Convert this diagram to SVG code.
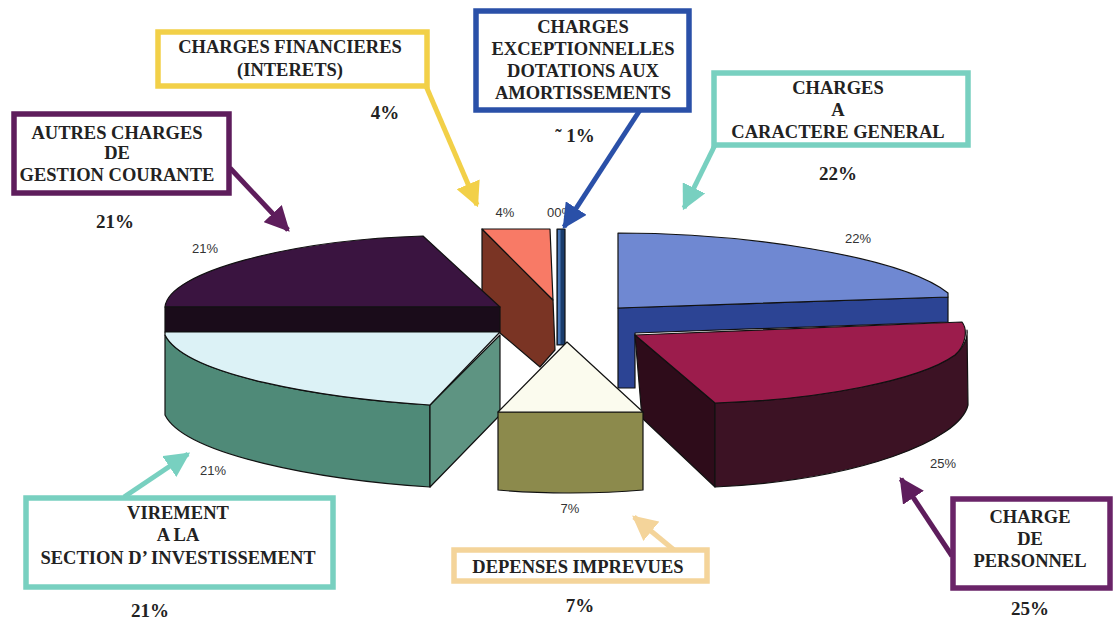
<svg xmlns="http://www.w3.org/2000/svg" width="1120" height="623" viewBox="0 0 1120 623">
<style>
.lbl{font-family:"Liberation Serif","Times New Roman",serif;font-weight:bold;font-size:18.5px;fill:#222;text-anchor:middle}
.pct{font-family:"Liberation Serif","Times New Roman",serif;font-weight:bold;font-size:19px;fill:#222;text-anchor:middle}
.sm{font-family:"Liberation Sans",Arial,sans-serif;font-size:13px;fill:#333;text-anchor:middle}
.box{fill:#fff;stroke-width:5.5}
.edge{stroke:#111;stroke-width:1.2;stroke-linejoin:round}
.conn{fill:none;stroke-width:5}
</style>
<defs>
<marker id="aPur" viewBox="0 0 10 10" refX="9" refY="5" markerWidth="5" markerHeight="5" orient="auto"><path d="M0,0 L10,5 L0,10 Z" fill="#5e1d5c"/></marker>
<marker id="aYel" viewBox="0 0 10 10" refX="9" refY="5" markerWidth="5" markerHeight="5" orient="auto"><path d="M0,0 L10,5 L0,10 Z" fill="#f2d048"/></marker>
<marker id="aBlu" viewBox="0 0 10 10" refX="9" refY="5" markerWidth="5" markerHeight="5" orient="auto"><path d="M0,0 L10,5 L0,10 Z" fill="#2a50a8"/></marker>
<marker id="aTea" viewBox="0 0 10 10" refX="9" refY="5" markerWidth="5" markerHeight="5" orient="auto"><path d="M0,0 L10,5 L0,10 Z" fill="#78d0c0"/></marker>
<marker id="aOra" viewBox="0 0 10 10" refX="9" refY="5" markerWidth="5" markerHeight="5" orient="auto"><path d="M0,0 L10,5 L0,10 Z" fill="#f4d49a"/></marker>
</defs>
<rect width="1120" height="623" fill="#fff"/>

<g id="pie">
  <g id="slice-general">
    <path class="edge" fill="#2c4494" d="M618,308 L948,297 L948,322 L635,333 L635,388 L618,388 Z"/>
    <path class="edge" fill="#6f88d2" d="M618,233 C740,233 900,255 948,293 L948,297 L618,308 Z"/>
  </g>
  <g id="slice-personnel">
    <path class="edge" fill="#2e0c1a" d="M635,335 L715,403 L715,487 L642,418 Z"/>
    <path class="edge" fill="#3c1224" d="M715,403 C820,400 920,380 955,355 C965,346 968,338 967,330 L968,405 C960,440 860,480 715,487 Z"/>
    <path class="edge" fill="#9c1c4c" d="M635,335 L962,322 C968,330 966,345 955,355 C920,380 820,400 715,403 Z"/>
  </g>
  <g id="slice-financieres">
    <path class="edge" fill="#7a3424" d="M482,229 L553,300 L555,350 L540,367 L500,333 L482,320 Z"/>
    <path class="edge" fill="#f87a66" d="M482,229 L550,229 L553,300 Z"/>
  </g>
  <g id="slice-exceptionnelles">
    <rect class="edge" x="557" y="229" width="8" height="116" fill="#1a3c6c"/>
    <rect x="558" y="230" width="2.5" height="114" fill="#4a78b8"/>
  </g>
  <g id="slice-autres">
    <path class="edge" fill="#3a1440" d="M165,307 C168,272 290,240 423,236 L500,307 Z"/>
    <path class="edge" fill="#1a0c1a" d="M165,307 L500,307 L500,332 L165,332 Z"/>
  </g>
  <g id="slice-virement">
    <path class="edge" fill="#4f8a78" d="M165,335 C185,375 320,398 430,405 L430,487 C320,480 185,455 165,415 Z"/>
    <path class="edge" fill="#5e9482" d="M430,405 L500,335 L500,415 L430,487 Z"/>
    <path class="edge" fill="#dcf2f6" d="M165,332 L500,332 L430,405 C320,398 185,375 165,335 Z"/>
  </g>
  <g id="slice-imprevues">
    <path class="edge" fill="#8c8a4c" d="M498,412 L643,412 L643,490 C600,494 540,494 498,490 Z"/>
    <path class="edge" fill="#fbfbee" d="M567,342 L498,412 L643,412 Z"/>
  </g>
  <text class="sm" x="205" y="253">21%</text>
  <text class="sm" x="213" y="475">21%</text>
  <text class="sm" x="505" y="217">4%</text>
  <text class="sm" x="560" y="217">00%</text>
  <text class="sm" x="570" y="513">7%</text>
  <text class="sm" x="858" y="243">22%</text>
  <text class="sm" x="943" y="468">25%</text>
</g>

<g id="connectors">
  <line class="conn" stroke="#5e1d5c" x1="230" y1="168" x2="288" y2="230" marker-end="url(#aPur)"/>
  <line class="conn" stroke="#f2d048" x1="426" y1="86" x2="477" y2="205" marker-end="url(#aYel)"/>
  <line class="conn" stroke="#2a50a8" x1="640" y1="110" x2="564" y2="227" marker-end="url(#aBlu)"/>
  <line class="conn" stroke="#78d0c0" x1="715" y1="145" x2="684" y2="208" marker-end="url(#aTea)"/>
  <line class="conn" stroke="#78d0c0" x1="124" y1="497" x2="188" y2="454" marker-end="url(#aTea)"/>
  <line class="conn" stroke="#f4d49a" x1="674" y1="550" x2="634" y2="517" marker-end="url(#aOra)"/>
  <line class="conn" stroke="#5e1d5c" x1="952" y1="556" x2="901" y2="479" marker-end="url(#aPur)"/>
</g>

<g id="n-autres">
  <rect class="box" stroke="#5e1d5c" x="14" y="114" width="215" height="79"/>
  <text class="lbl" x="117" y="139">AUTRES CHARGES</text>
  <text class="lbl" x="117" y="159">DE</text>
  <text class="lbl" x="117" y="181">GESTION COURANTE</text>
  <text class="pct" x="115" y="228">21%</text>
</g>
<g id="n-financieres">
  <rect class="box" stroke="#f2d048" x="158" y="32" width="269" height="54"/>
  <text class="lbl" x="290" y="53">CHARGES FINANCIERES</text>
  <text class="lbl" x="290" y="76">(INTERETS)</text>
  <text class="pct" x="385" y="119">4%</text>
</g>
<g id="n-exceptionnelles">
  <rect class="box" stroke="#2a50a8" x="476" y="11" width="213" height="99"/>
  <text class="lbl" x="583" y="33">CHARGES</text>
  <text class="lbl" x="583" y="55">EXCEPTIONNELLES</text>
  <text class="lbl" x="583" y="77">DOTATIONS AUX</text>
  <text class="lbl" x="583" y="99">AMORTISSEMENTS</text>
  <text class="pct" x="575" y="142">˜ 1%</text>
</g>
<g id="n-general">
  <rect class="box" stroke="#78d0c0" x="714" y="73" width="254" height="72"/>
  <text class="lbl" x="838" y="94">CHARGES</text>
  <text class="lbl" x="838" y="116">A</text>
  <text class="lbl" x="838" y="138">CARACTERE GENERAL</text>
  <text class="pct" x="838" y="180">22%</text>
</g>
<g id="n-virement">
  <rect class="box" stroke="#78d0c0" x="26" y="498" width="307" height="89"/>
  <text class="lbl" x="178" y="519">VIREMENT</text>
  <text class="lbl" x="178" y="541">A LA</text>
  <text class="lbl" x="178" y="564">SECTION D’ INVESTISSEMENT</text>
  <text class="pct" x="150" y="617">21%</text>
</g>
<g id="n-imprevues">
  <rect class="box" stroke="#f4d49a" x="454" y="550" width="253" height="31"/>
  <text class="lbl" x="578" y="573">DEPENSES IMPREVUES</text>
  <text class="pct" x="580" y="612">7%</text>
</g>
<g id="n-personnel">
  <rect class="box" stroke="#6a2468" x="953" y="499" width="157" height="89"/>
  <text class="lbl" x="1030" y="523">CHARGE</text>
  <text class="lbl" x="1030" y="545">DE</text>
  <text class="lbl" x="1030" y="567">PERSONNEL</text>
  <text class="pct" x="1030" y="615">25%</text>
</g>
</svg>
